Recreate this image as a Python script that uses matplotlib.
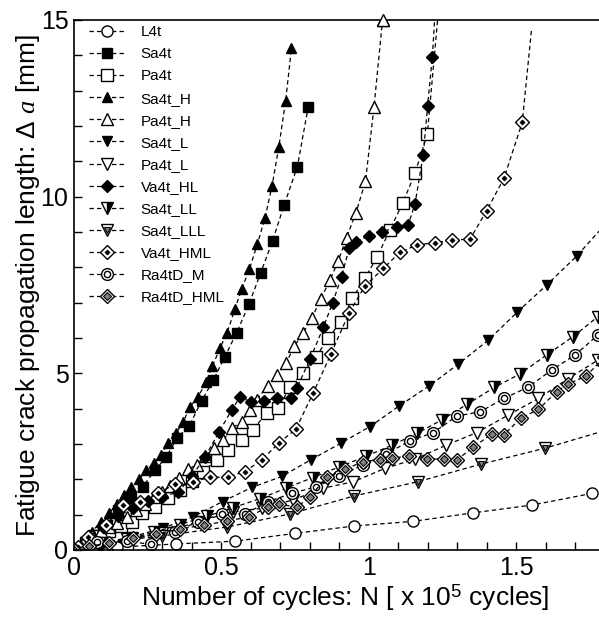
import matplotlib
matplotlib.use("Agg")
import matplotlib.pyplot as plt
from matplotlib.legend_handler import HandlerTuple
from matplotlib.ticker import MultipleLocator, FixedLocator, FormatStrFormatter

plt.rcParams['font.family'] = ['Liberation Sans', 'DejaVu Sans']
plt.rcParams['mathtext.fontset'] = 'custom'
plt.rcParams['mathtext.rm'] = 'Liberation Sans'
plt.rcParams['mathtext.it'] = 'Liberation Serif:italic'

# Data (N in 1e5 cycles, crack length in mm)
L4T_X = [0, 0.145, 0.345, 0.548, 0.75, 0.951, 1.151, 1.353, 1.553, 1.757]
L4T_Y = [0, 0.08, 0.17, 0.25, 0.47, 0.68, 0.81, 1.05, 1.27, 1.6]

SA4T_X = [0, 0.066, 0.111, 0.15, 0.192, 0.233, 0.275, 0.312, 0.351, 0.391,
          0.433, 0.473, 0.512, 0.552, 0.594, 0.633, 0.674, 0.713, 0.758, 0.795]
SA4T_Y = [0, 0.42, 0.71, 1.13, 1.46, 1.79, 2.26, 2.62, 3.18, 3.51,
          4.22, 4.81, 5.47, 6.15, 6.96, 7.83, 8.75, 9.76, 10.85, 12.55]

PA4T_X = [0, 0.04, 0.08, 0.12, 0.16, 0.196, 0.23, 0.275, 0.32, 0.36, 0.40,
          0.439, 0.484, 0.524, 0.569, 0.606, 0.654, 0.693, 0.733, 0.778, 0.821,
          0.863, 0.905, 0.945, 0.987, 1.029, 1.072, 1.115, 1.157, 1.199, 1.25]
PA4T_Y = [0, 0.2, 0.4, 0.55, 0.68, 0.80, 1.04, 1.23, 1.46, 1.7, 1.95,
          2.22, 2.55, 2.83, 3.11, 3.40, 3.87, 4.01, 4.62, 5.02, 5.47,
          5.99, 6.46, 7.12, 7.69, 8.30, 9.06, 9.81, 10.66, 11.77, 16.5]

SA4T_H_X = [0, 0.03, 0.06, 0.09, 0.12, 0.145, 0.17, 0.195, 0.22, 0.245,
            0.27, 0.295, 0.32, 0.346, 0.371, 0.394, 0.422, 0.448, 0.470,
            0.495, 0.52, 0.546, 0.569, 0.595, 0.622, 0.648, 0.672, 0.695,
            0.718, 0.738]
SA4T_H_Y = [0, 0.25, 0.5, 0.8, 1.05, 1.3, 1.55, 1.78, 2.0, 2.25,
            2.45, 2.69, 3.02, 3.3, 3.63, 4.06, 4.34, 4.76, 5.2,
            5.71, 6.15, 6.82, 7.38, 7.94, 8.65, 9.39, 10.3, 11.4,
            12.7, 14.2]

PA4T_H_X = [0, 0.03, 0.06, 0.09, 0.12, 0.145, 0.179, 0.21, 0.24, 0.27, 0.3,
            0.326, 0.356, 0.386, 0.416, 0.445, 0.475, 0.507, 0.535, 0.569,
            0.597, 0.62, 0.657, 0.688, 0.719, 0.748, 0.778, 0.807, 0.837,
            0.869, 0.897, 0.925, 0.957, 0.989, 1.018, 1.047]
PA4T_H_Y = [0, 0.2, 0.4, 0.55, 0.65, 0.76, 0.94, 1.13, 1.3, 1.5, 1.65,
            1.82, 2.05, 2.28, 2.41, 2.65, 2.88, 3.11, 3.44, 3.63,
            3.96, 4.25, 4.65, 4.95, 5.28, 5.77, 6.15, 6.56, 7.10,
            7.64, 8.19, 8.84, 9.55, 10.43, 12.53, 15.0]

SA4T_L_X = [0, 0.1, 0.2, 0.303, 0.405, 0.504, 0.603, 0.705, 0.803, 0.905,
            1.004, 1.104, 1.206, 1.304, 1.406, 1.504, 1.604, 1.706, 1.806]
SA4T_L_Y = [0, 0.2, 0.38, 0.62, 0.94, 1.37, 1.77, 2.08, 2.55, 3.02,
            3.49, 4.08, 4.65, 5.26, 5.94, 6.73, 7.5, 8.32, 9.25]

PA4T_L_X = [0, 0.086, 0.19, 0.297, 0.42, 0.54, 0.637, 0.744, 0.846, 0.948,
            1.055, 1.157, 1.264, 1.366, 1.474, 1.576, 1.677, 1.779]
PA4T_L_Y = [0, 0.14, 0.3, 0.47, 0.8, 1.08, 1.18, 1.42, 1.75, 1.93,
            2.31, 2.57, 2.97, 3.32, 3.82, 4.29, 4.85, 5.38]

VA4T_HL_X = [0, 0.05, 0.1, 0.15, 0.2, 0.25, 0.3, 0.354, 0.4, 0.445, 0.493,
             0.535, 0.563, 0.6, 0.645, 0.688, 0.735, 0.756, 0.801, 0.846,
             0.878, 0.908, 0.934, 0.957, 1.002, 1.044, 1.095, 1.134, 1.157,
             1.185, 1.2, 1.216, 1.235]
VA4T_HL_Y = [0, 0.3, 0.65, 0.95, 1.2, 1.4, 1.5, 1.65, 2.08, 2.64, 3.35,
             3.96, 4.32, 4.2, 4.23, 4.29, 4.29, 4.58, 5.40, 6.30,
             7.0, 7.74, 8.54, 8.73, 8.89, 8.99, 9.15, 9.2, 9.79,
             11.18, 12.57, 13.96, 16.5]

SA4T_LL_X = [0, 0.09, 0.18, 0.27, 0.36, 0.45, 0.541, 0.63, 0.72, 0.81, 0.9,
             0.99, 1.078, 1.163, 1.248, 1.333, 1.426, 1.513, 1.604, 1.694, 1.777]
SA4T_LL_Y = [0, 0.15, 0.3, 0.5, 0.72, 0.95, 1.2, 1.45, 1.75, 2.05, 2.35,
             2.65, 2.96, 3.3, 3.68, 4.12, 4.6, 4.98, 5.52, 6.04, 6.6]

SA4T_LLL_X = [0, 0.085, 0.3, 0.52, 0.733, 0.951, 1.166, 1.381, 1.598, 1.81]
SA4T_LLL_Y = [0, 0.2, 0.4, 0.65, 1.02, 1.53, 1.93, 2.43, 2.88, 3.4]

VA4T_HML_X = [0, 0.015, 0.049, 0.109, 0.165, 0.224, 0.286, 0.343, 0.403,
              0.461, 0.521, 0.58, 0.637, 0.697, 0.753, 0.812, 0.872, 0.934,
              0.987, 1.05, 1.105, 1.163, 1.225, 1.284, 1.344, 1.4, 1.459,
              1.521, 1.553]
VA4T_HML_Y = [0, 0.09, 0.38, 0.71, 1.27, 1.35, 1.6, 1.87, 1.93,
              2.06, 2.06, 2.22, 2.55, 3.04, 3.42, 4.45, 5.55, 6.72,
              7.47, 7.97, 8.42, 8.63, 8.7, 8.77, 8.8, 9.6, 10.52,
              12.1, 14.77]

RA4TD_M_X = [0, 0.077, 0.179, 0.26, 0.343, 0.422, 0.501, 0.58, 0.659, 0.739,
             0.821, 0.9, 0.98, 1.06, 1.14, 1.219, 1.299, 1.378, 1.459, 1.539,
             1.621, 1.7, 1.779]
RA4TD_M_Y = [0, 0.24, 0.25, 0.16, 0.52, 0.80, 1.02, 1.02, 1.37, 1.60,
             1.79, 2.08, 2.41, 2.72, 3.09, 3.32, 3.79, 3.91, 4.29, 4.6,
             5.09, 5.52, 6.09]

RA4TD_HML_X = [0, 0.05, 0.12, 0.2, 0.28, 0.36, 0.44, 0.52, 0.595, 0.659,
               0.697, 0.756, 0.80, 0.857, 0.92, 0.98, 1.038, 1.078, 1.138,
               1.197, 1.256, 1.299, 1.355, 1.417, 1.459, 1.516, 1.576,
               1.638, 1.677, 1.737, 1.8]
RA4TD_HML_Y = [0, 0.1, 0.2, 0.35, 0.45, 0.6, 0.7, 0.82, 0.94, 1.23,
               1.30, 1.21, 1.5, 2.06, 2.28, 2.5, 2.55, 2.6, 2.66,
               2.58, 2.57, 2.55, 2.91, 3.28, 3.26, 3.73, 3.98,
               4.48, 4.70, 4.92, 5.45]

LABELS = ['L4t', 'Sa4t', 'Pa4t', 'Sa4t_H', 'Pa4t_H', 'Sa4t_L', 'Pa4t_L',
          'Va4t_HL', 'Sa4t_LL', 'Sa4t_LLL', 'Va4t_HML', 'Ra4tD_M', 'Ra4tD_HML']

DASH = (0, (3.5, 2.5))
LW = 0.9
MEW = 1.0


def draw(ax, x, y, marker, ms, face, inner=None, fillstyle='full',
         alt='white', last_marker=True):
    """Dashed line with markers; optional inner marker for double symbols."""
    every = None if last_marker else list(range(len(x) - 1))
    line, = ax.plot(x, y, linestyle=DASH, color='black', linewidth=LW,
                    marker=marker, markersize=ms, markerfacecolor=face,
                    markerfacecoloralt=alt, fillstyle=fillstyle,
                    markeredgecolor='black', markeredgewidth=MEW,
                    markevery=every)
    if inner is None:
        return line
    in_marker, in_ms, in_face, in_mew = inner
    dot, = ax.plot(x, y, linestyle='none', marker=in_marker,
                   markersize=in_ms, markerfacecolor=in_face,
                   markeredgecolor='black', markeredgewidth=in_mew,
                   markevery=every)
    return (line, dot)


fig = plt.figure(figsize=(5.99, 6.19), dpi=100)
# axes run past the right edge of the figure, as in the cropped original
ax = fig.add_axes([0.1235, 0.1115, 0.984, 0.8562])

handles = [
    draw(ax, L4T_X, L4T_Y, 'o', 8, 'white'),
    draw(ax, SA4T_X, SA4T_Y, 's', 7.5, 'black'),
    draw(ax, PA4T_X, PA4T_Y, 's', 8, 'white'),
    draw(ax, SA4T_H_X, SA4T_H_Y, '^', 7.5, 'black'),
    draw(ax, PA4T_H_X, PA4T_H_Y, '^', 8.5, 'white'),
    draw(ax, SA4T_L_X, SA4T_L_Y, 'v', 7.5, 'black'),
    draw(ax, PA4T_L_X, PA4T_L_Y, 'v', 8.5, 'white'),
    draw(ax, VA4T_HL_X, VA4T_HL_Y, 'D', 6, 'black'),
    draw(ax, SA4T_LL_X, SA4T_LL_Y, 'v', 8, 'black', fillstyle='right'),
    draw(ax, SA4T_LLL_X, SA4T_LLL_Y, 'v', 8.5, 'white',
         inner=('v', 4.5, 'gray', 0.8)),
    draw(ax, VA4T_HML_X, VA4T_HML_Y, 'D', 7, 'white',
         inner=('D', 2.5, 'black', 0.6), last_marker=False),
    draw(ax, RA4TD_M_X, RA4TD_M_Y, 'o', 8.5, 'white',
         inner=('o', 4.5, 'white', 1.0)),
    draw(ax, RA4TD_HML_X, RA4TD_HML_Y, 'D', 7, 'white',
         inner=('D', 4, 'gray', 0.8)),
]

# last Pa4t_H point sits on the top frame and is drawn whole there
ax.plot(PA4T_H_X[-1:], PA4T_H_Y[-1:], linestyle='none', marker='^',
        markersize=8.5, markerfacecolor='white', markeredgecolor='black',
        markeredgewidth=MEW, clip_on=False, zorder=3)

ax.set_xlim(0, 2)
ax.set_ylim(0, 15)
ax.xaxis.set_major_locator(FixedLocator([0, 0.5, 1, 1.5]))
ax.xaxis.set_minor_locator(MultipleLocator(0.1))
ax.yaxis.set_major_locator(MultipleLocator(5))
ax.yaxis.set_minor_locator(MultipleLocator(1))
ax.xaxis.set_major_formatter(FormatStrFormatter('%g'))
ax.tick_params(which='both', direction='in', length=6, width=1,
               top=False, right=False, labelsize=18, pad=4)
for side in ['left', 'bottom', 'top', 'right']:
    ax.spines[side].set_linewidth(1.2)

ax.set_xlabel('Number of cycles: N [ x 10$^{5}$ cycles]', fontsize=19)
ax.xaxis.set_label_coords(0.46, -0.06)
ax.set_ylabel('Fatigue crack propagation length: \u0394 $\\mathit{a}$ [mm]',
              fontsize=19)
ax.yaxis.set_label_coords(-0.054, 0.5)

ax.legend(handles, LABELS, loc='upper left', bbox_to_anchor=(0.025, 0.99),
          frameon=False, fontsize=11, handlelength=2.4, handletextpad=1.0,
          labelspacing=0.53, borderpad=0, borderaxespad=0,
          handler_map={tuple: HandlerTuple(ndivide=1)})

fig.savefig('out.png', dpi=100)
